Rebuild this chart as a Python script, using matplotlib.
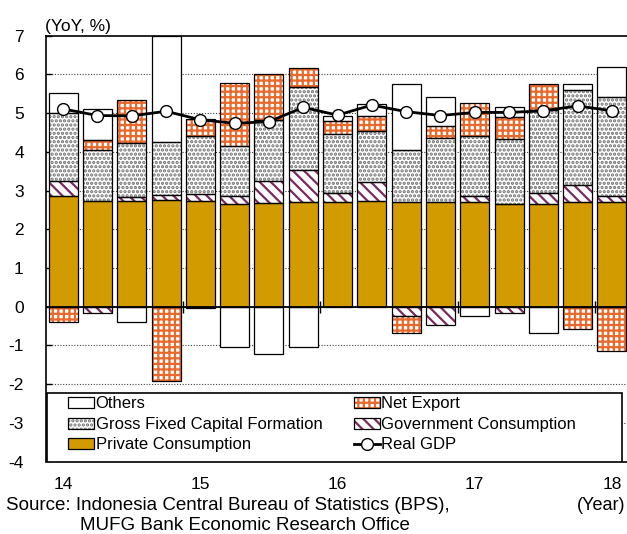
import matplotlib
matplotlib.use('Agg')
import matplotlib.pyplot as plt
from matplotlib.patches import Patch, Rectangle
from matplotlib.lines import Line2D
import numpy as np

plt.rcParams['font.family'] = ['Liberation Sans', 'DejaVu Sans']
plt.rcParams['axes.unicode_minus'] = False
plt.rcParams['hatch.linewidth'] = 1.6

# 2014Q1 .. 2018Q1, contributions to real GDP growth (YoY, %pt)
quarters = ['14Q1', '14Q2', '14Q3', '14Q4', '15Q1', '15Q2', '15Q3', '15Q4',
            '16Q1', '16Q2', '16Q3', '16Q4', '17Q1', '17Q2', '17Q3', '17Q4', '18Q1']
private_cons = [2.87, 2.74, 2.74, 2.77, 2.73, 2.65, 2.67, 2.70, 2.70,
                2.73, 2.70, 2.71, 2.70, 2.65, 2.65, 2.71, 2.71]
gov_cons = [0.38, -0.17, 0.10, 0.12, 0.19, 0.22, 0.58, 0.83, 0.23,
            0.48, -0.24, -0.47, 0.17, -0.15, 0.28, 0.43, 0.16]
gfcf = [1.75, 1.31, 1.40, 1.36, 1.49, 1.29, 1.57, 2.15, 1.52,
        1.34, 1.35, 1.64, 1.54, 1.68, 2.15, 2.46, 2.56]
net_export = [-0.40, 0.26, 1.09, -1.92, 0.43, 1.63, 1.18, 0.50, 0.36,
              0.39, -0.45, 0.33, 0.86, 0.56, 0.67, -0.58, -1.14]
others = [0.53, 0.79, -0.40, 2.75, -0.03, -1.05, -1.22, -1.03, 0.13,
          0.29, 1.70, 0.75, -0.25, 0.28, -0.69, 0.15, 0.76]
real_gdp = [5.11, 4.94, 4.93, 5.05, 4.83, 4.74, 4.78, 5.15, 4.95,
            5.21, 5.04, 4.94, 5.02, 5.02, 5.06, 5.19, 5.06]

year_pos = [0, 4, 8, 12, 16]
year_labels = ['14', '15', '16', '17', '18']

# (label, values, face, hatch, hatch colour)
series = [
    ('Private Consumption', private_cons, '#d29b00', None, None),
    ('Government Consumption', gov_cons, 'white', '\\\\\\', '#7a2a5c'),
    ('Gross Fixed Capital Formation', gfcf, 'white', '....', '#6f6f6f'),
    ('Net Export', net_export, 'white', '+++', '#e8692c'),
    ('Others', others, 'white', None, None),
]

fig = plt.figure(figsize=(6.27, 5.34), dpi=100)
ax = fig.add_axes([46 / 627, 1 - 461.5 / 534, 1 - 46 / 627, (461.5 - 35.8) / 534])

x = np.arange(len(quarters))
w = 0.845
pos_base = np.zeros(len(x))
neg_base = np.zeros(len(x))
handles = {}
for label, vals, face, hatch, hcol in series:
    v = np.array(vals)
    base = np.where(v >= 0, pos_base, neg_base)
    if hatch:
        ax.bar(x, v, w, bottom=base, color=face, edgecolor=hcol, hatch=hatch,
               linewidth=0, zorder=2)
    else:
        ax.bar(x, v, w, bottom=base, color=face, linewidth=0, zorder=2)
    ax.bar(x, v, w, bottom=base, fill=False, edgecolor='black', linewidth=0.9, zorder=3)
    pos_base = pos_base + np.where(v >= 0, v, 0)
    neg_base = neg_base + np.where(v < 0, v, 0)
    fill = Patch(facecolor=face, edgecolor=hcol if hcol else face, hatch=hatch, linewidth=0)
    edge = Patch(fill=False, edgecolor='black', linewidth=0.9)
    handles[label] = (fill, edge)

ax.plot(x, real_gdp, color='black', lw=2, marker='o', markersize=8.5,
        markerfacecolor='white', markeredgecolor='black', markeredgewidth=1, zorder=5)
handles['Real GDP'] = Line2D([], [], color='black', lw=2, marker='o', markersize=8.5,
                            markerfacecolor='white', markeredgecolor='black',
                            markeredgewidth=1)

ax.axhline(0, color='black', lw=1.3, zorder=4)
# year boundary ticks on the zero line
bounds = [p - 0.5 for p in year_pos[1:]]
ax.vlines(bounds, -0.16, 0.16, color='black', lw=1, zorder=4)

ax.set_xlim(-0.5, 16.44)
ax.set_ylim(-4, 7)
ax.set_yticks(range(-4, 8))
for yv in range(-3, 7):
    ax.axhline(yv, color='#444444', lw=0.8, linestyle=(0, (1, 1.5)), zorder=1)
ax.tick_params(axis='y', direction='in', length=4, width=1, labelsize=12.5, pad=16)
ax.set_xticks(year_pos)
ax.set_xticklabels(year_labels)
ax.tick_params(axis='x', length=0, labelsize=12.5, pad=11)
ax.spines['right'].set_visible(False)
for s in ('left', 'top', 'bottom'):
    ax.spines[s].set_linewidth(1.2)

# legend box
ax.add_patch(Rectangle((0.0017, 0), 0.989, 0.1616, transform=ax.transAxes,
                       facecolor='white', edgecolor='black', lw=1.2, zorder=6))
order = ['Others', 'Gross Fixed Capital Formation', 'Private Consumption',
         'Net Export', 'Government Consumption', 'Real GDP']
leg = ax.legend([handles[k] for k in order], order, ncol=2, frameon=False,
                loc='upper left', bbox_to_anchor=((68 - 46) / 581, (461.5 - 396.5) / 425.7),
                borderpad=0, borderaxespad=0, handlelength=1.55, handleheight=0.65,
                handletextpad=0.1, columnspacing=1.9, labelspacing=0.33, fontsize=12)
leg.set_zorder(7)

fig.text(45 / 627, 1 - 34 / 534, '(YoY, %)', fontsize=12.5, ha='left', va='bottom')
fig.text(625 / 627, 1 - 506 / 534, '(Year)', fontsize=13, ha='right', va='center')
fig.text(6 / 627, 1 - 506 / 534, 'Source: Indonesia Central Bureau of Statistics (BPS),',
         fontsize=13.5, ha='left', va='center')
fig.text(80 / 627, 1 - 525 / 534, 'MUFG Bank Economic Research Office',
         fontsize=13.5, ha='left', va='center')

fig.savefig('out.png', dpi=100)
